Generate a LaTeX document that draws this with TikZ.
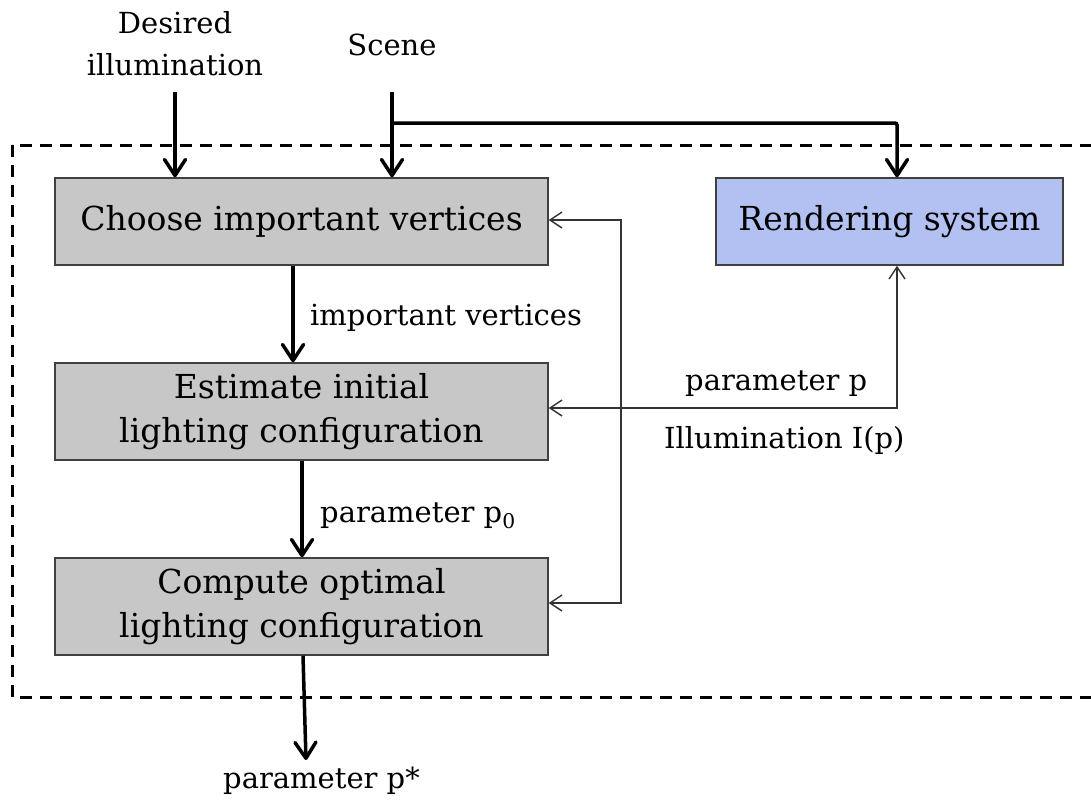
\documentclass[tikz,border=0pt]{standalone}
\usepackage{fontspec}
\setmainfont{DejaVu Serif}
\usetikzlibrary{arrows.meta}

\definecolor{boxgray}{HTML}{C7C7C7}
\definecolor{boxblue}{HTML}{B3C1F2}
\definecolor{edgegray}{HTML}{404040}

\tikzset{
  thintip/.tip={Straight Barb[length=12pt, width=16pt]},
  stage/.style={draw=edgegray, line width=1.5pt, fill=boxgray,
    minimum width=493pt, inner sep=0pt, align=center,
    font=\fontsize{33}{44}\selectfont},
  renderbox/.style={stage, fill=boxblue, minimum width=347pt},
  lbl/.style={inner sep=0pt, font=\fontsize{29}{42}\selectfont},
  flow/.style={line width=3.5pt, -{Straight Barb[length=16pt, width=21pt, round]}},
  thinflow/.style={line width=1.4pt, draw=black!80},
  frame/.style={line width=3pt, dash pattern=on 12pt off 8pt}
}

\begin{document}
\begin{tikzpicture}[x=1pt, y=-1pt]
\useasboundingbox (0,0) rectangle (1091,801);

% enclosing system frame
\draw[frame] (12,145) rectangle (1110,697);

% processing stages
\node[stage, minimum height=87pt] (choose) at (301.5,221.5) {Choose important vertices};
\node[stage, minimum height=97pt] (estimate) at (301.5,411.5) {Estimate initial\\lighting configuration};
\node[stage, minimum height=97pt] (compute) at (301.5,606.5) {Compute optimal\\lighting configuration};
\node[renderbox, minimum height=87pt] (render) at (889.5,221.5) {Rendering system};

% inputs
\node[lbl, anchor=base] (desired) at (175,33) {Desired};
\node[lbl, anchor=base] (illum) at (175,75) {illumination};
\node[lbl, anchor=base] (scene) at (392,55) {Scene};
\coordinate (desin) at (175,92);
\coordinate (scenein) at (392,92);
\coordinate (split) at (392,123);
\coordinate (out) at (306,760);

% labels along connectors
\node[lbl, anchor=base west] (lvert) at (310,325) {important vertices};
\node[lbl, anchor=base west] (lp0) at (320,522) {parameter p\textsubscript{0}};
\node[lbl, anchor=base west] (lp) at (685,390) {parameter p};
\node[lbl, anchor=base west] (lI) at (664,448) {Illumination I(p)};
\node[lbl, anchor=base west] (lpstar) at (223,788) {parameter p*};

% main data flow
\draw[flow] (desin) -- (desin |- choose.north);
\draw[flow] (scenein) -- (scenein |- choose.north);
\draw[flow, rounded corners=2pt] (split) -| (897,0 |- render.north);
\draw[flow] (293,0 |- choose.south) -- (293,0 |- estimate.north);
\draw[flow] (302,0 |- estimate.south) -- (302,0 |- compute.north);
\draw[flow] (303,0 |- compute.south) -- (out);

% feedback between the stages and the renderer
\coordinate (fbtop) at (621,220);
\coordinate (fbbot) at (621,603);
\coordinate (rq) at (897,408);
\draw[thinflow, thintip-thintip] (choose.east |- fbtop) -- (fbtop) -- (fbbot) -- (compute.east |- fbbot);
\draw[thinflow, thintip-thintip] (estimate.east |- rq) -- (rq) -- (rq |- render.south);
\end{tikzpicture}
\end{document}
